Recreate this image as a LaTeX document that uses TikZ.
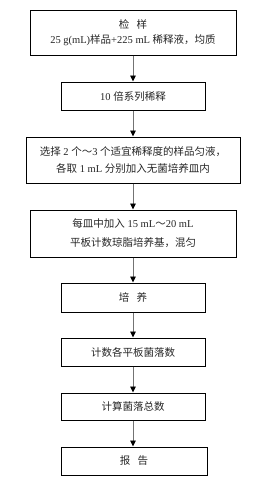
\documentclass[tikz,border=0pt]{standalone}
\usepackage{fontspec}
\setmainfont{Liberation Serif}
\newfontfamily\cjk{Noto Sans CJK SC}
\newcommand{\zh}[1]{{\cjk #1}}
\usetikzlibrary{arrows.meta}
\begin{document}
\begin{tikzpicture}[x=1pt,y=-1pt,
  stepbox/.style={draw=black, line width=1pt, inner sep=0pt, align=center,
    font=\fontsize{10.5}{13}\selectfont, text=black!85},
  flow/.style={draw=black!55, line width=0.9pt, -{Triangle[width=5.5pt,length=6pt,black]}}]
\useasboundingbox (0,0) rectangle (267,479);
\node[stepbox, minimum width=206pt, minimum height=45pt] (b1) at (133,32.5)
  {\zh{检\hspace{0.7em}样}\\[2pt] 25 g(mL)\zh{样品}+225 mL \zh{稀释液，均质}};
\node[stepbox, minimum width=144pt, minimum height=28pt] (b2) at (133,96)
  {10 \zh{倍系列稀释}};
\node[stepbox, minimum width=214pt, minimum height=46pt] (b3) at (133,160)
  {\zh{选择} 2 \zh{个～}3 \zh{个适宜稀释度的样品匀液，}\\[4pt]\zh{各取} 1 mL \zh{分别加入无菌培养皿内}};
\node[stepbox, minimum width=206pt, minimum height=47pt] (b4) at (133,233.5)
  {\zh{每皿中加入} 15 mL\zh{～}20 mL\\[6pt]\zh{平板计数琼脂培养基，混匀}};
\node[stepbox, minimum width=144pt, minimum height=29pt] (b5) at (133,297.5)
  {\zh{培\hspace{0.7em}养}};
\node[stepbox, minimum width=144pt, minimum height=28pt] (b6) at (133,352)
  {\zh{计数各平板菌落数}};
\node[stepbox, minimum width=144pt, minimum height=27pt] (b7) at (133,406.5)
  {\zh{计算菌落总数}};
\node[stepbox, minimum width=146pt, minimum height=28pt] (b8) at (134,461)
  {\zh{报\hspace{0.7em}告}};
\draw[flow] (b1.south) -- (b2.north);
\draw[flow] (b2.south) -- (b3.north);
\draw[flow] (b3.south) -- (b4.north);
\draw[flow] (b4.south) -- (b5.north);
\draw[flow] (b5.south) -- (b6.north);
\draw[flow] (b6.south) -- (b7.north);
\draw[flow] (b7.south) -- (b8.north -| b7.south);
\end{tikzpicture}
\end{document}
